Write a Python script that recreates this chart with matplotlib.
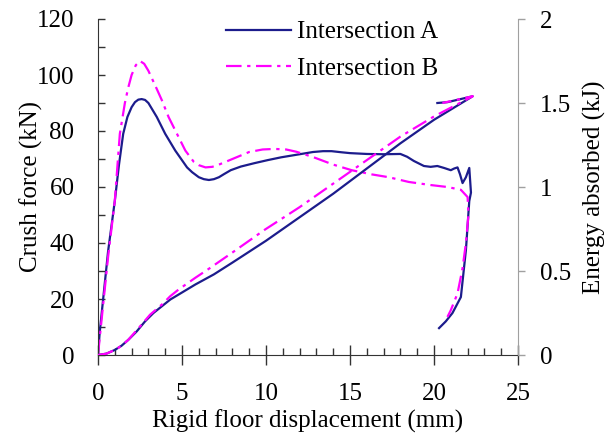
import numpy as np
import matplotlib
matplotlib.use("Agg")
import matplotlib.pyplot as plt
from matplotlib.ticker import MultipleLocator

plt.rcParams['font.family'] = ['Liberation Serif', 'DejaVu Serif']
plt.rcParams['font.size'] = 18

# crush force (kN) vs displacement (mm)
disp_fa = [0, 0.1, 0.6, 1.0, 1.25, 1.5, 1.75, 2.0, 2.2, 2.4, 2.6, 2.8, 3.0, 3.5, 4.0, 4.6, 5.3, 5.6,
           6.0, 6.3, 6.6, 6.9, 7.2, 7.5, 7.9, 8.5, 9.3, 10.1, 10.9, 11.9, 12.8, 13.4, 13.9, 14.5,
           15.0, 16.0, 17.0, 18.0, 18.4, 18.8, 19.4, 19.8, 20.2, 20.6, 21.0, 21.2, 21.4, 21.55,
           21.7, 21.9, 22.1, 22.2, 22.1, 21.9, 21.6, 21.1, 20.7, 20.3]
force_a = [0, 8, 37, 55, 68, 79, 85, 88.5, 90.3, 91.2, 91.4, 91.1, 90, 85, 79, 73, 67, 65.3,
           63.5, 62.8, 62.5, 62.8, 63.5, 64.6, 66, 67.3, 68.5, 69.6, 70.6, 71.6, 72.5, 72.8, 72.8, 72.4,
           72.1, 71.8, 71.7, 71.8, 70.8, 69.3, 67.5, 67.2, 67.5, 66.8, 66, 66.6, 67, 64.5,
           61.4, 63.5, 66.8, 58, 55, 37.5, 20.7, 15, 12, 9.6]

disp_fb = [0, 0.1, 0.6, 1.0, 1.3, 1.6, 1.8, 2.0, 2.25, 2.5, 2.75, 3.0, 3.5, 3.8, 4.2, 4.7, 5.2,
           5.7, 6.0, 6.4, 6.8, 7.2, 8.0, 9.0, 9.8, 10.5, 11.2, 11.8, 12.8, 14.0, 15.1, 16.3,
           17.3, 18.5, 19.8, 20.8, 21.6, 22.0, 22.05, 21.9, 21.7, 21.4, 21.0, 20.8]
force_b = [0, 6, 35, 55, 79, 90, 95.5, 100, 103.5, 105, 104, 101.5, 95, 91, 85, 79, 73,
           69, 67.8, 67, 67.2, 68, 70, 72.5, 73.4, 73.6, 73.4, 72.6, 70.7, 68, 66, 64.5,
           63.5, 61.8, 60.7, 60, 59, 56.4, 50, 40, 31, 22, 16, 13.6]

# energy absorbed (kJ)
disp_ea = [0, 0.5, 1.0, 1.4, 1.8, 2.3, 2.8, 3.3, 3.8, 4.3, 4.8, 5.8, 6.9, 8, 10, 12, 14, 16, 18, 20,
           22.3, 20.8, 20.2]
energy_a = [0, 0.008, 0.03, 0.055, 0.09, 0.14, 0.2, 0.25, 0.29, 0.33, 0.36, 0.42, 0.48, 0.55,
            0.68, 0.82, 0.96, 1.11, 1.26, 1.40, 1.54, 1.505, 1.50]

disp_eb = [0, 0.5, 1.0, 1.4, 1.8, 2.5, 3.1, 3.8, 4.3, 4.8, 5.8, 6.7, 8, 9.9, 12, 14, 16, 18, 20,
           22.3, 20.5]
energy_b = [0, 0.008, 0.03, 0.055, 0.09, 0.17, 0.24, 0.30, 0.35, 0.39, 0.46, 0.52, 0.61, 0.744,
            0.88, 1.02, 1.16, 1.30, 1.42, 1.54, 1.50]

navy = '#1c1c8c'
pink = '#ff00ff'
dashdot = (0, (7, 2.5, 1.5, 2.5))

fig = plt.figure(figsize=(6.15, 4.43), dpi=100)
ax = fig.add_axes([98/615, 1-355/443, 420/615, 336/443])
ax2 = ax.twinx()

la, = ax.plot(disp_fa, force_a, color=navy, lw=1.6, label='Intersection A')
lb, = ax.plot(disp_fb, force_b, color=pink, lw=1.6, linestyle=dashdot, label='Intersection B')
ax2.plot(disp_ea, energy_a, color=navy, lw=1.6)
ax2.plot(disp_eb, energy_b, color=pink, lw=1.6, linestyle=dashdot)

ax.set_xlim(0, 25)
ax.set_ylim(0, 120)
ax2.set_ylim(0, 2)

ax.xaxis.set_major_locator(MultipleLocator(5))
ax.xaxis.set_minor_locator(MultipleLocator(1))
ax.yaxis.set_major_locator(MultipleLocator(20))
ax.yaxis.set_minor_locator(MultipleLocator(10))
ax2.set_yticks([0, 0.5, 1, 1.5, 2], ['0', '0.5', '1', '1.5', '2'])

for s in ['top', 'right']:
    ax.spines[s].set_visible(False)
ax2.spines['top'].set_visible(False)
ax2.spines['left'].set_visible(False)
ax2.spines['bottom'].set_visible(False)
ax2.spines['right'].set_color('#a0a0a0')
ax.spines['left'].set_color('#333333')
ax.spines['bottom'].set_color('#333333')

ax.tick_params(axis='x', which='major', direction='inout', length=14, width=1, color='#333333', pad=13)
ax.tick_params(axis='x', which='minor', direction='in', length=5, width=1, color='#333333')
ax.tick_params(axis='y', which='both', direction='in', length=5, width=1, color='#333333', pad=17)
ax2.tick_params(axis='y', which='major', direction='out', length=5, width=1, color='#a0a0a0', pad=11)

ax.set_xlabel('Rigid floor displacement (mm)')
ax.set_ylabel('Crush force (kN)')
ax2.set_ylabel('Energy absorbed (kJ)')
ax.xaxis.set_label_coords(0.5, -0.163)
ax.yaxis.set_label_coords(-0.13, 0.5)
ax2.yaxis.set_label_coords(1.155, 0.5)

fig.legend(handles=[la, lb], loc='upper left', bbox_to_anchor=(226/615, 1-21/443),
           frameon=False, handlelength=2.6, handletextpad=0.25, labelspacing=0.55,
           borderpad=0, borderaxespad=0)

fig.savefig('out.png', dpi=100)
